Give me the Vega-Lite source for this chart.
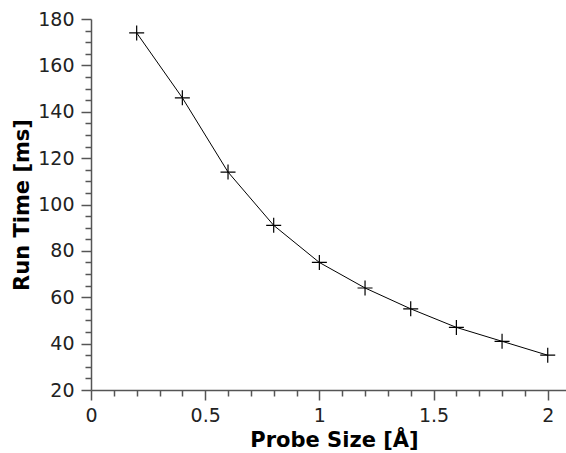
{
  "$schema": "https://vega.github.io/schema/vega-lite/v6.json",
  "width": 475,
  "height": 371,
  "autosize": {"type": "none"},
  "padding": {"left": 91, "top": 19, "right": 0, "bottom": 63},
  "background": "white",
  "config": {
    "view": {"stroke": null},
    "font": "DejaVu Sans",
    "axis": {
      "labelFont": "DejaVu Sans",
      "titleFont": "DejaVu Sans",
      "labelFontSize": 19,
      "titleFontSize": 21,
      "titleFontWeight": "bold",
      "labelColor": "#222222",
      "titleColor": "#000000",
      "domainColor": "#555555",
      "tickColor": "#555555",
      "domainWidth": 1.5,
      "tickWidth": 1.5,
      "labelFlush": false,
      "grid": false
    }
  },
  "data": {
    "values": [
      {"size": 0.2, "time": 174},
      {"size": 0.4, "time": 146},
      {"size": 0.6, "time": 114},
      {"size": 0.8, "time": 91},
      {"size": 1.0, "time": 75},
      {"size": 1.2, "time": 64},
      {"size": 1.4, "time": 55},
      {"size": 1.6, "time": 47},
      {"size": 1.8, "time": 41},
      {"size": 2.0, "time": 35}
    ]
  },
  "layer": [
    {
      "mark": {"type": "line", "color": "black", "strokeWidth": 1},
      "encoding": {
        "x": {
          "field": "size", "type": "quantitative",
          "scale": {"domain": [0, 2.08], "nice": false, "zero": false},
          "axis": {
            "title": "Probe Size [Å]",
            "orient": "bottom",
            "values": [0, 0.5, 1, 1.5, 2],
            "format": "~g",
            "tickSize": 10,
            "labelPadding": 6,
            "titlePadding": 4,
            "titleX": 243
          }
        },
        "y": {
          "field": "time", "type": "quantitative",
          "scale": {"domain": [20, 180], "nice": false, "zero": false},
          "axis": {
            "title": "Run Time [ms]",
            "orient": "left",
            "values": [20, 40, 60, 80, 100, 120, 140, 160, 180],
            "tickSize": 10,
            "labelPadding": 7,
            "titlePadding": 5
          }
        }
      }
    },
    {
      "mark": {
        "type": "point",
        "shape": "M-1,0H1M0,-1V1",
        "size": 225,
        "filled": false,
        "color": "black",
        "strokeWidth": 1.2,
        "opacity": 1
      },
      "encoding": {
        "x": {
          "field": "size", "type": "quantitative",
          "axis": {
            "title": null,
            "orient": "bottom",
            "values": [0.1, 0.2, 0.3, 0.4, 0.6, 0.7, 0.8, 0.9, 1.1, 1.2, 1.3, 1.4, 1.6, 1.7, 1.8, 1.9],
            "labels": false,
            "domain": false,
            "tickSize": 6
          }
        },
        "y": {
          "field": "time", "type": "quantitative",
          "axis": {
            "title": null,
            "orient": "left",
            "values": [25, 30, 35, 45, 50, 55, 65, 70, 75, 85, 90, 95, 105, 110, 115, 125, 130, 135, 145, 150, 155, 165, 170, 175],
            "labels": false,
            "domain": false,
            "tickSize": 6
          }
        }
      }
    }
  ],
  "resolve": {"axis": {"x": "independent", "y": "independent"}}
}
